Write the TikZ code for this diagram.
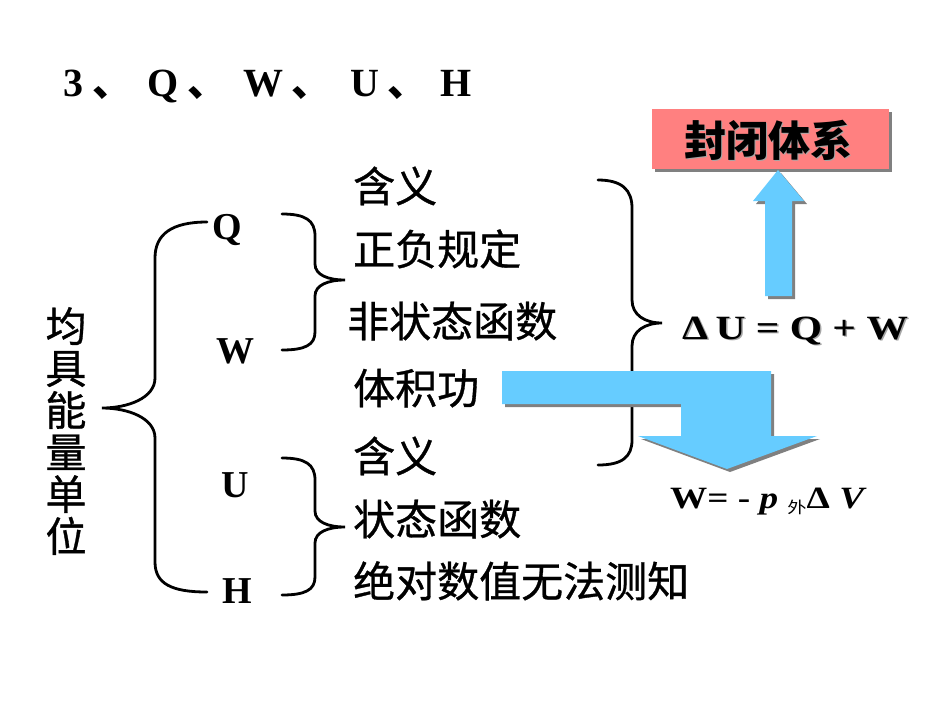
\documentclass[tikz,border=0pt]{standalone}
\usepackage{fontspec}
\setmainfont{Liberation Serif}
\newfontfamily\cjk[FakeBold=0.8]{Noto Sans CJK SC}
\newfontfamily\cjkplain{Noto Sans CJK SC}
\definecolor{arrowblue}{RGB}{102,204,255}
\definecolor{boxred}{RGB}{255,128,128}
\definecolor{shadowgray}{RGB}{128,128,128}
\tikzset{
  cjktext/.style={font=\cjk\fontsize{42}{43}\selectfont, inner sep=0pt, anchor=base west},
  letter/.style={font=\bfseries\fontsize{38}{38}\selectfont, inner sep=0pt, anchor=base},
  bracestroke/.style={line width=2.8pt, line cap=round, draw=black},
  bluearrow/.style={fill=arrowblue, draw=none},
  arrowshadow/.style={fill=shadowgray, draw=none},
}
\begin{document}
\begin{tikzpicture}[x=1pt,y=-1pt]
\useasboundingbox (0,0) rectangle (950,713);
\fill[white] (0,0) rectangle (950,713);

% title
\node[inner sep=0pt, anchor=base west, font=\bfseries\fontsize{40}{40}\selectfont] (title) at (63,96)
 {\makebox[84pt][l]{3\hspace{9pt}{\cjkplain\bfseries 、}}\makebox[96pt][l]{Q\hspace{9pt}{\cjkplain\bfseries 、}}\makebox[107pt][l]{W\hspace{8pt}{\cjkplain\bfseries 、}}\makebox[90pt][l]{U\hspace{8pt}{\cjkplain\bfseries 、}}H};

% vertical label
\node[inner sep=0pt, align=center, font=\cjk\fontsize{41}{42}\selectfont] (unit) at (66,431)
 {均\\具\\能\\量\\单\\位};

% letters
\node[letter] (Q) at (227,239) {Q};
\node[letter] (W) at (235,363) {W};
\node[letter] (U) at (235,497) {U};
\node[letter] (H) at (237,603) {H};

% braces
\draw[bracestroke] (207,222) .. controls (172,222) and (155,234) .. (155,258) -- (155,378)
  .. controls (155,398) and (128,408) .. (102,408)
  .. controls (128,408) and (155,418) .. (155,438) -- (155,562)
  .. controls (155,584) and (172,592) .. (207,592);
\draw[bracestroke] (282,214) .. controls (305,214) and (315,220) .. (315,236) -- (315,264)
  .. controls (315,275) and (328,280) .. (345,280)
  .. controls (328,280) and (315,285) .. (315,296) -- (315,332)
  .. controls (315,345) and (305,350) .. (282,350);
\draw[bracestroke] (282,458) .. controls (305,458) and (315,464) .. (315,480) -- (315,511)
  .. controls (315,522) and (328,527) .. (345,527)
  .. controls (328,527) and (315,532) .. (315,543) -- (315,577)
  .. controls (315,590) and (305,595) .. (282,595);
\draw[bracestroke] (598,180) .. controls (622,180) and (632,190) .. (632,208) -- (632,300)
  .. controls (632,315) and (645,323) .. (662,323)
  .. controls (645,323) and (632,331) .. (632,346) -- (632,440)
  .. controls (632,457) and (622,465) .. (598,465);

% middle texts
\node[cjktext] (t1) at (353,202) {含义};
\node[cjktext] (t2) at (353,265) {正负规定};
\node[cjktext] (t3) at (347,337) {非状态函数};
\node[cjktext] (t4) at (353,404) {体积功};
\node[cjktext] (t5) at (353,472) {含义};
\node[cjktext] (t6) at (353,535) {状态函数};
\node[cjktext] (t7) at (353,597) {绝对数值无法测知};

% box
\fill[shadowgray] (655,112) rectangle (892,172);
\fill[boxred] (652,109) rectangle (889,169);
\node[inner sep=0pt, text=shadowgray!70, font=\cjkplain\bfseries\fontsize{42}{42}\selectfont] at (769.5,141.5) {封闭体系};
\node[inner sep=0pt, font=\cjkplain\bfseries\fontsize{42}{42}\selectfont] (box) at (768,140) {封闭体系};

% up arrow
\fill[arrowshadow, shift={(3,3)}] (765,296) -- (765,201) -- (753,201) -- (778,170) -- (804,201) -- (792,201) -- (792,296) -- cycle;
\fill[bluearrow] (765,296) -- (765,201) -- (753,201) -- (778,170) -- (804,201) -- (792,201) -- (792,296) -- cycle;

% bent arrow
\fill[arrowshadow, shift={(3,3)}] (502,371) -- (771,371) -- (771,436) -- (817,436) -- (727,469) -- (638,436) -- (681,436) -- (681,404) -- (502,404) -- cycle;
\fill[bluearrow] (502,371) -- (771,371) -- (771,436) -- (817,436) -- (727,469) -- (638,436) -- (681,436) -- (681,404) -- (502,404) -- cycle;

% formulas
\node[inner sep=0pt, anchor=base west, text=shadowgray!70, font=\bfseries\fontsize{34}{34}\selectfont] at (683.5,340.5)
 {\scalebox{1.22}[1]{Δ\hspace{6pt}U = Q + W}};
\node[inner sep=0pt, anchor=base west, font=\bfseries\fontsize{34}{34}\selectfont] (dU) at (682,339)
 {\scalebox{1.22}[1]{Δ\hspace{6pt}U = Q + W}};
\node[inner sep=0pt, anchor=base west, font=\bfseries\fontsize{31}{31}\selectfont] (Wf) at (670,508)
 {\scalebox{1.2}[1]{W= - \textit{p} {\cjkplain\mdseries\fontsize{16}{16}\selectfont\raisebox{-5pt}{外}}Δ \textit{V}}};
\end{tikzpicture}
\end{document}
